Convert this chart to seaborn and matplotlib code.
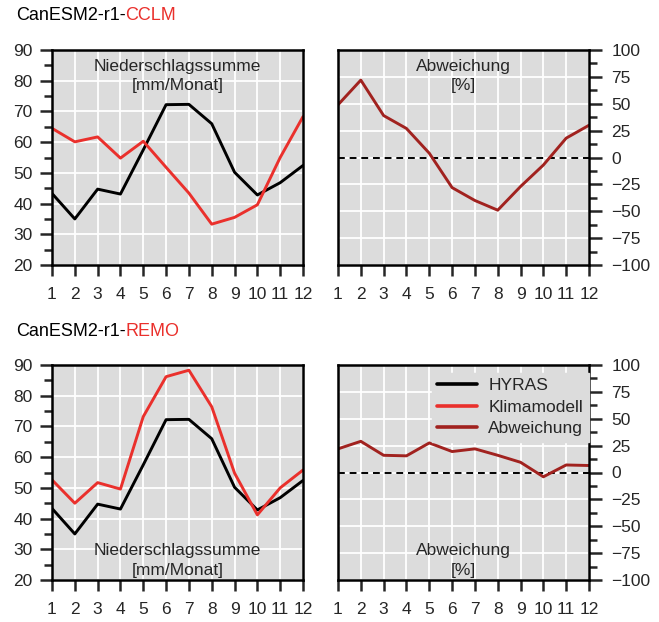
import numpy as np
import pandas as pd
import matplotlib
matplotlib.use("Agg")
import matplotlib.pyplot as plt
import seaborn as sns
from matplotlib.ticker import MultipleLocator
from matplotlib.lines import Line2D

months = list(range(1, 13))
hyras = [43.3, 35.0, 44.7, 43.1, 57.5, 72.2, 72.3, 66.0, 50.2, 42.8, 46.8, 52.4]
cclm = [64.5, 60.1, 61.7, 54.8, 60.3, 51.8, 43.4, 33.3, 35.5, 39.6, 55.0, 68.3]
cclm_dev = [49, 72, 39, 27, 4, -28, -40, -49, -27, -7, 18, 30]
remo = [52.6, 45.0, 51.7, 49.6, 73.2, 86.2, 88.3, 76.4, 54.8, 41.2, 50.0, 55.8]
remo_dev = [22, 29, 16, 15.5, 27.5, 19.5, 22, 16, 9.5, -4, 7, 6.5]

models = ["CCLM", "REMO"]
prefix = "CanESM2-r1-"
labels = ["HYRAS", "Klimamodell", "Abweichung"]

BLACK = "#000000"
RED = "#ea302c"
DARKRED = "#a1221f"
BG = "#dcdcdc"
FS = 12.5

sns.set_style("white")
plt.rcParams["font.family"] = ["Liberation Sans", "DejaVu Sans"]

fig = plt.figure(figsize=(6.59, 6.22), dpi=100)
W, H = 659, 622


def ax_at(x0, y0, x1, y1):
    return fig.add_axes([x0 / W, 1 - y1 / H, (x1 - x0) / W, (y1 - y0) / H])


def style(ax, right, ylim, major, minor):
    ax.set_facecolor(BG)
    ax.set_xlim(1, 12)
    ax.set_ylim(*ylim)
    ax.xaxis.set_major_locator(MultipleLocator(1))
    ax.yaxis.set_major_locator(MultipleLocator(major))
    ax.yaxis.set_minor_locator(MultipleLocator(minor))
    ax.grid(True, which="major", color="white", lw=1.3)
    ax.grid(False, which="minor")
    ax.set_axisbelow(True)
    for sp in ax.spines.values():
        sp.set_visible(True)
        sp.set_color("black")
        sp.set_linewidth(1.8)
    ax.tick_params(axis="x", which="both", direction="out", length=8, width=1.8,
                   pad=8, labelsize=FS, bottom=True, top=False)
    ax.tick_params(axis="y", which="major", direction="out", length=9, width=1.8,
                   labelsize=FS)
    ax.tick_params(axis="y", which="minor", direction="out", length=5.5, width=1.8)
    if right:
        ax.yaxis.tick_right()
        ax.tick_params(axis="y", which="both", left=False, right=True, pad=7)
    else:
        ax.tick_params(axis="y", which="both", left=True, right=False, pad=5)
    ax.set_xlabel("")
    ax.set_ylabel("")


rows = [(cclm, cclm_dev, 50, 265, True), (remo, remo_dev, 365, 580, False)]
for i, (model_vals, dev_vals, y0, y1, text_top) in enumerate(rows):
    df = pd.DataFrame({"Monat": months, "HYRAS": hyras, "Modell": model_vals,
                       "Abw": dev_vals})
    axl = ax_at(52, y0, 303, y1)
    axr = ax_at(338, y0, 589, y1)
    sns.lineplot(data=df, x="Monat", y="HYRAS", color=BLACK, lw=2.1, ax=axl)
    sns.lineplot(data=df, x="Monat", y="Modell", color=RED, lw=2.1, ax=axl)
    axr.axhline(0, color="black", ls=(0, (3.5, 2.5)), lw=1.4, zorder=1.5)
    sns.lineplot(data=df, x="Monat", y="Abw", color=DARKRED, lw=2.1, ax=axr)
    style(axl, False, (20, 90), 10, 5)
    style(axr, True, (-100, 100), 25, 12.5)
    axl.set_yticks(np.arange(20, 91, 10))
    axr.set_yticks(np.arange(-100, 101, 25))

    if text_top:
        ty_ax, va = 0.96, "top"
    else:
        ty_ax, va = 0.01, "bottom"
    axl.text(0.5, ty_ax, "Niederschlagssumme\n[mm/Monat]", transform=axl.transAxes,
             ha="center", va=va, fontsize=FS, linespacing=1.4)
    axr.text(0.5, ty_ax, "Abweichung\n[%]", transform=axr.transAxes,
             ha="center", va=va, fontsize=FS, linespacing=1.4)

    ty = 15 if i == 0 else 332
    t = fig.text(16 / W, 1 - ty / H, prefix, ha="left", va="center", fontsize=13,
                 color="black")
    axl.annotate(models[i], xy=(1, 0), xycoords=t, ha="left", va="bottom",
                 fontsize=13, color=RED, annotation_clip=False)

    if i == 1:
        handles = [Line2D([], [], color=c, lw=2.6) for c in (BLACK, RED, DARKRED)]
        axr.legend(handles, labels, loc="upper left",
                   bbox_to_anchor=(0.34, 1.005), fontsize=FS,
                   frameon=True, facecolor=BG, edgecolor=BG, framealpha=1,
                   handlelength=2.3, handletextpad=0.65, labelspacing=0.38,
                   borderpad=0.3, fancybox=False)

fig.savefig("out.png", dpi=100)
